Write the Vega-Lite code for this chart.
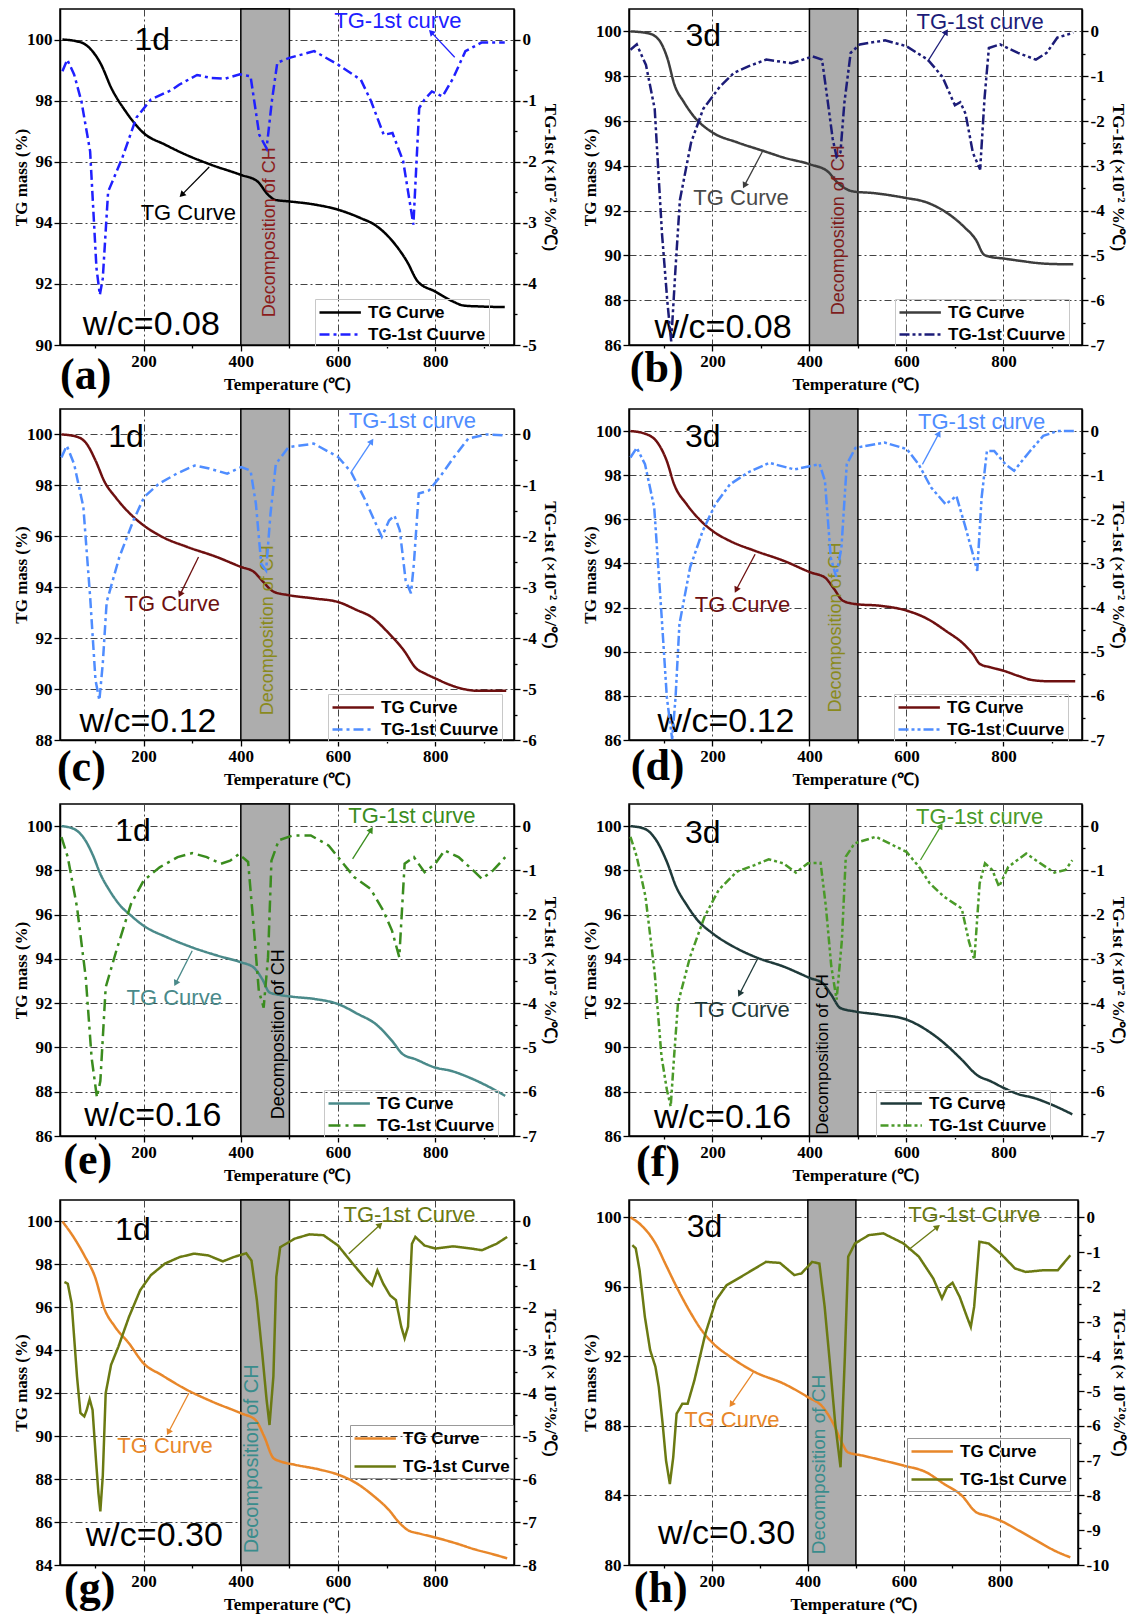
{
"$schema": "https://vega.github.io/schema/vega-lite/v6.json",
"padding": {"left": 11, "top": 7, "right": 0, "bottom": 2},
"autosize": {"type": "pad"},
"background": "#ffffff",
"config": {
 "view": {"stroke": "#000", "strokeWidth": 1.5},
 "axis": {"labelFont": "Liberation Serif", "labelFontSize": 17, "labelFontWeight": "bold", "labelColor": "#000", "titleFont": "Liberation Serif", "titleFontSize": 17, "titleFontWeight": "bold", "titleColor": "#000", "domainColor": "#000", "domainWidth": 1.5, "tickColor": "#000", "tickWidth": 1.3, "gridColor": "#444", "gridDash": [7, 3, 2, 3], "gridWidth": 1, "labelOverlap": false, "labelPadding": 2, "labelFlush": false},
 "axisX": {"titlePadding": 7},
 "legend": {"orient": "none", "strokeColor": "#c8c8c8", "padding": 3, "labelFont": "Liberation Sans", "labelFontSize": 17, "labelFontWeight": "bold", "labelColor": "#000", "symbolType": "M-1,0H3.6", "symbolSize": 324, "symbolStrokeWidth": 2.5, "rowPadding": 3, "labelOffset": 29},
 "text": {"font": "Liberation Sans", "align": "center", "baseline": "middle"},
 "line": {"strokeWidth": 2.5},
 "rule": {"strokeWidth": 1.3},
 "point": {"shape": "triangle", "filled": true, "size": 50, "opacity": 1}
},
"datasets": {
 "tg": [
  {"p":"a","T":33,"v":100},{"p":"a","T":60,"v":99.95},{"p":"a","T":80,"v":99.84},{"p":"a","T":112,"v":99.2},{"p":"a","T":134,"v":98.4},{"p":"a","T":163,"v":97.65},{"p":"a","T":200,"v":96.94},{"p":"a","T":244,"v":96.56},{"p":"a","T":280,"v":96.28},{"p":"a","T":339,"v":95.9},{"p":"a","T":400,"v":95.57},{"p":"a","T":434,"v":95.36},{"p":"a","T":456,"v":94.92},{"p":"a","T":471,"v":94.75},{"p":"a","T":500,"v":94.7},{"p":"a","T":551,"v":94.6},{"p":"a","T":600,"v":94.43},{"p":"a","T":647,"v":94.15},{"p":"a","T":676,"v":93.93},{"p":"a","T":712,"v":93.4},{"p":"a","T":742,"v":92.73},{"p":"a","T":764,"v":92.08},{"p":"a","T":800,"v":91.75},{"p":"a","T":837,"v":91.42},{"p":"a","T":859,"v":91.29},{"p":"a","T":895,"v":91.26},{"p":"a","T":943,"v":91.24},
  {"p":"b","T":31,"v":100},{"p":"b","T":67,"v":99.92},{"p":"b","T":89,"v":99.64},{"p":"b","T":107,"v":98.81},{"p":"b","T":122,"v":97.6},{"p":"b","T":141,"v":96.85},{"p":"b","T":163,"v":96.17},{"p":"b","T":200,"v":95.49},{"p":"b","T":252,"v":95.04},{"p":"b","T":304,"v":94.67},{"p":"b","T":348,"v":94.36},{"p":"b","T":402,"v":94.06},{"p":"b","T":437,"v":93.76},{"p":"b","T":459,"v":93.23},{"p":"b","T":489,"v":92.86},{"p":"b","T":533,"v":92.78},{"p":"b","T":600,"v":92.56},{"p":"b","T":637,"v":92.4},{"p":"b","T":674,"v":92.03},{"p":"b","T":719,"v":91.27},{"p":"b","T":744,"v":90.67},{"p":"b","T":759,"v":90.05},{"p":"b","T":770,"v":89.95},{"p":"b","T":800,"v":89.86},{"p":"b","T":837,"v":89.75},{"p":"b","T":874,"v":89.65},{"p":"b","T":896,"v":89.62},{"p":"b","T":944,"v":89.6},
  {"p":"c","T":31,"v":100},{"p":"c","T":61,"v":99.92},{"p":"c","T":83,"v":99.63},{"p":"c","T":101,"v":98.98},{"p":"c","T":120,"v":98.13},{"p":"c","T":142,"v":97.54},{"p":"c","T":172,"v":96.89},{"p":"c","T":200,"v":96.43},{"p":"c","T":239,"v":95.97},{"p":"c","T":290,"v":95.58},{"p":"c","T":350,"v":95.19},{"p":"c","T":400,"v":94.8},{"p":"c","T":427,"v":94.6},{"p":"c","T":446,"v":94.21},{"p":"c","T":468,"v":93.82},{"p":"c","T":498,"v":93.69},{"p":"c","T":550,"v":93.56},{"p":"c","T":600,"v":93.42},{"p":"c","T":639,"v":93.1},{"p":"c","T":668,"v":92.84},{"p":"c","T":705,"v":92.18},{"p":"c","T":735,"v":91.53},{"p":"c","T":761,"v":90.81},{"p":"c","T":779,"v":90.61},{"p":"c","T":800,"v":90.42},{"p":"c","T":831,"v":90.16},{"p":"c","T":861,"v":89.99},{"p":"c","T":890,"v":89.93},{"p":"c","T":946,"v":89.93},
  {"p":"d","T":31,"v":100},{"p":"d","T":61,"v":99.88},{"p":"d","T":87,"v":99.47},{"p":"d","T":106,"v":98.64},{"p":"d","T":121,"v":97.59},{"p":"d","T":147,"v":96.68},{"p":"d","T":173,"v":96.0},{"p":"d","T":200,"v":95.48},{"p":"d","T":236,"v":95.02},{"p":"d","T":288,"v":94.57},{"p":"d","T":347,"v":94.12},{"p":"d","T":403,"v":93.59},{"p":"d","T":432,"v":93.36},{"p":"d","T":451,"v":92.84},{"p":"d","T":469,"v":92.31},{"p":"d","T":495,"v":92.16},{"p":"d","T":547,"v":92.08},{"p":"d","T":601,"v":91.86},{"p":"d","T":644,"v":91.48},{"p":"d","T":681,"v":90.95},{"p":"d","T":718,"v":90.35},{"p":"d","T":737,"v":89.9},{"p":"d","T":752,"v":89.44},{"p":"d","T":774,"v":89.29},{"p":"d","T":800,"v":89.14},{"p":"d","T":830,"v":88.91},{"p":"d","T":859,"v":88.72},{"p":"d","T":896,"v":88.66},{"p":"d","T":948,"v":88.66},
  {"p":"e","T":31,"v":100},{"p":"e","T":56,"v":99.88},{"p":"e","T":78,"v":99.43},{"p":"e","T":96,"v":98.67},{"p":"e","T":111,"v":97.84},{"p":"e","T":130,"v":97.09},{"p":"e","T":152,"v":96.41},{"p":"e","T":174,"v":95.96},{"p":"e","T":200,"v":95.5},{"p":"e","T":248,"v":94.98},{"p":"e","T":300,"v":94.52},{"p":"e","T":352,"v":94.15},{"p":"e","T":400,"v":93.85},{"p":"e","T":426,"v":93.62},{"p":"e","T":444,"v":93.09},{"p":"e","T":459,"v":92.49},{"p":"e","T":478,"v":92.38},{"p":"e","T":507,"v":92.29},{"p":"e","T":552,"v":92.19},{"p":"e","T":600,"v":91.96},{"p":"e","T":641,"v":91.51},{"p":"e","T":678,"v":91.05},{"p":"e","T":711,"v":90.3},{"p":"e","T":733,"v":89.7},{"p":"e","T":759,"v":89.47},{"p":"e","T":800,"v":89.09},{"p":"e","T":833,"v":88.94},{"p":"e","T":870,"v":88.64},{"p":"e","T":907,"v":88.26},{"p":"e","T":944,"v":87.81},
  {"p":"f","T":31,"v":100},{"p":"f","T":59,"v":99.89},{"p":"f","T":84,"v":99.37},{"p":"f","T":106,"v":98.39},{"p":"f","T":125,"v":97.27},{"p":"f","T":147,"v":96.44},{"p":"f","T":169,"v":95.76},{"p":"f","T":200,"v":95.16},{"p":"f","T":243,"v":94.56},{"p":"f","T":294,"v":94.04},{"p":"f","T":346,"v":93.66},{"p":"f","T":402,"v":93.13},{"p":"f","T":427,"v":92.91},{"p":"f","T":445,"v":92.38},{"p":"f","T":464,"v":91.78},{"p":"f","T":493,"v":91.63},{"p":"f","T":545,"v":91.48},{"p":"f","T":600,"v":91.26},{"p":"f","T":640,"v":90.81},{"p":"f","T":677,"v":90.21},{"p":"f","T":714,"v":89.45},{"p":"f","T":747,"v":88.73},{"p":"f","T":773,"v":88.48},{"p":"f","T":800,"v":88.18},{"p":"f","T":832,"v":87.88},{"p":"f","T":861,"v":87.73},{"p":"f","T":898,"v":87.43},{"p":"f","T":942,"v":86.98},
  {"p":"g","T":33,"v":100},{"p":"g","T":56,"v":99.27},{"p":"g","T":78,"v":98.42},{"p":"g","T":100,"v":97.42},{"p":"g","T":119,"v":95.95},{"p":"g","T":141,"v":95.1},{"p":"g","T":170,"v":94.32},{"p":"g","T":200,"v":93.39},{"p":"g","T":237,"v":92.85},{"p":"g","T":289,"v":92.16},{"p":"g","T":341,"v":91.61},{"p":"g","T":400,"v":91.07},{"p":"g","T":430,"v":90.76},{"p":"g","T":448,"v":89.99},{"p":"g","T":467,"v":88.98},{"p":"g","T":481,"v":88.83},{"p":"g","T":511,"v":88.67},{"p":"g","T":563,"v":88.44},{"p":"g","T":600,"v":88.21},{"p":"g","T":637,"v":87.82},{"p":"g","T":674,"v":87.2},{"p":"g","T":704,"v":86.58},{"p":"g","T":726,"v":85.97},{"p":"g","T":744,"v":85.62},{"p":"g","T":770,"v":85.45},{"p":"g","T":800,"v":85.28},{"p":"g","T":844,"v":85.0},{"p":"g","T":881,"v":84.73},{"p":"g","T":919,"v":84.5},{"p":"g","T":948,"v":84.31},
  {"p":"h","T":31,"v":100},{"p":"h","T":53,"v":99.56},{"p":"h","T":83,"v":98.5},{"p":"h","T":105,"v":97.25},{"p":"h","T":127,"v":96.0},{"p":"h","T":157,"v":94.47},{"p":"h","T":179,"v":93.51},{"p":"h","T":200,"v":92.83},{"p":"h","T":239,"v":91.97},{"p":"h","T":290,"v":91.1},{"p":"h","T":350,"v":90.43},{"p":"h","T":400,"v":89.66},{"p":"h","T":431,"v":89.09},{"p":"h","T":453,"v":88.13},{"p":"h","T":472,"v":86.97},{"p":"h","T":483,"v":86.49},{"p":"h","T":513,"v":86.3},{"p":"h","T":557,"v":86.01},{"p":"h","T":599,"v":85.72},{"p":"h","T":646,"v":85.34},{"p":"h","T":683,"v":84.67},{"p":"h","T":720,"v":84.0},{"p":"h","T":750,"v":83.04},{"p":"h","T":772,"v":82.84},{"p":"h","T":800,"v":82.56},{"p":"h","T":839,"v":81.98},{"p":"h","T":876,"v":81.4},{"p":"h","T":913,"v":80.83},{"p":"h","T":946,"v":80.44}
 ],
 "dtg": [
  {"p":"a","T":33,"v":-0.52},{"p":"a","T":43,"v":-0.33},{"p":"a","T":57,"v":-0.57},{"p":"a","T":72,"v":-1.01},{"p":"a","T":90,"v":-1.83},{"p":"a","T":103,"v":-3.74},{"p":"a","T":110,"v":-4.18},{"p":"a","T":116,"v":-3.91},{"p":"a","T":127,"v":-2.49},{"p":"a","T":156,"v":-1.94},{"p":"a","T":185,"v":-1.28},{"p":"a","T":215,"v":-0.98},{"p":"a","T":259,"v":-0.82},{"p":"a","T":273,"v":-0.74},{"p":"a","T":310,"v":-0.58},{"p":"a","T":339,"v":-0.63},{"p":"a","T":368,"v":-0.64},{"p":"a","T":398,"v":-0.57},{"p":"a","T":420,"v":-0.6},{"p":"a","T":438,"v":-1.56},{"p":"a","T":453,"v":-1.78},{"p":"a","T":464,"v":-1.0},{"p":"a","T":475,"v":-0.38},{"p":"a","T":500,"v":-0.3},{"p":"a","T":551,"v":-0.19},{"p":"a","T":600,"v":-0.41},{"p":"a","T":647,"v":-0.66},{"p":"a","T":668,"v":-1.01},{"p":"a","T":694,"v":-1.56},{"p":"a","T":712,"v":-1.53},{"p":"a","T":734,"v":-1.99},{"p":"a","T":755,"v":-3.03},{"p":"a","T":767,"v":-1.12},{"p":"a","T":778,"v":-0.98},{"p":"a","T":793,"v":-0.85},{"p":"a","T":815,"v":-0.93},{"p":"a","T":837,"v":-0.63},{"p":"a","T":862,"v":-0.19},{"p":"a","T":895,"v":-0.05},{"p":"a","T":943,"v":-0.05},
  {"p":"b","T":31,"v":-0.41},{"p":"b","T":44,"v":-0.29},{"p":"b","T":63,"v":-0.75},{"p":"b","T":81,"v":-1.73},{"p":"b","T":96,"v":-4.51},{"p":"b","T":107,"v":-6.02},{"p":"b","T":115,"v":-6.92},{"p":"b","T":124,"v":-5.27},{"p":"b","T":133,"v":-3.76},{"p":"b","T":156,"v":-2.48},{"p":"b","T":181,"v":-1.73},{"p":"b","T":215,"v":-1.24},{"p":"b","T":244,"v":-0.93},{"p":"b","T":274,"v":-0.78},{"p":"b","T":311,"v":-0.63},{"p":"b","T":363,"v":-0.71},{"p":"b","T":407,"v":-0.56},{"p":"b","T":426,"v":-0.63},{"p":"b","T":437,"v":-1.5},{"p":"b","T":448,"v":-2.4},{"p":"b","T":456,"v":-2.8},{"p":"b","T":464,"v":-2.7},{"p":"b","T":472,"v":-1.6},{"p":"b","T":485,"v":-0.48},{"p":"b","T":504,"v":-0.29},{"p":"b","T":556,"v":-0.2},{"p":"b","T":600,"v":-0.33},{"p":"b","T":644,"v":-0.63},{"p":"b","T":674,"v":-1.01},{"p":"b","T":700,"v":-1.65},{"p":"b","T":711,"v":-1.58},{"p":"b","T":722,"v":-1.84},{"p":"b","T":737,"v":-2.71},{"p":"b","T":752,"v":-3.08},{"p":"b","T":761,"v":-1.5},{"p":"b","T":770,"v":-0.37},{"p":"b","T":793,"v":-0.29},{"p":"b","T":830,"v":-0.48},{"p":"b","T":867,"v":-0.63},{"p":"b","T":889,"v":-0.48},{"p":"b","T":911,"v":-0.14},{"p":"b","T":944,"v":-0.03},
  {"p":"c","T":31,"v":-0.45},{"p":"c","T":42,"v":-0.22},{"p":"c","T":57,"v":-0.58},{"p":"c","T":76,"v":-1.42},{"p":"c","T":90,"v":-3.19},{"p":"c","T":101,"v":-4.82},{"p":"c","T":109,"v":-5.22},{"p":"c","T":116,"v":-4.5},{"p":"c","T":124,"v":-3.29},{"p":"c","T":150,"v":-2.41},{"p":"c","T":179,"v":-1.69},{"p":"c","T":201,"v":-1.23},{"p":"c","T":231,"v":-0.97},{"p":"c","T":268,"v":-0.77},{"p":"c","T":305,"v":-0.61},{"p":"c","T":335,"v":-0.67},{"p":"c","T":372,"v":-0.77},{"p":"c","T":401,"v":-0.64},{"p":"c","T":420,"v":-0.71},{"p":"c","T":431,"v":-1.36},{"p":"c","T":442,"v":-2.54},{"p":"c","T":452,"v":-2.67},{"p":"c","T":461,"v":-1.56},{"p":"c","T":472,"v":-0.58},{"p":"c","T":498,"v":-0.25},{"p":"c","T":550,"v":-0.18},{"p":"c","T":600,"v":-0.44},{"p":"c","T":627,"v":-0.74},{"p":"c","T":653,"v":-1.23},{"p":"c","T":690,"v":-2.01},{"p":"c","T":705,"v":-1.69},{"p":"c","T":716,"v":-1.59},{"p":"c","T":727,"v":-1.88},{"p":"c","T":739,"v":-2.86},{"p":"c","T":750,"v":-3.12},{"p":"c","T":756,"v":-2.54},{"p":"c","T":766,"v":-1.16},{"p":"c","T":787,"v":-1.1},{"p":"c","T":809,"v":-0.84},{"p":"c","T":839,"v":-0.44},{"p":"c","T":868,"v":-0.08},{"p":"c","T":905,"v":0},{"p":"c","T":946,"v":-0.02},
  {"p":"d","T":31,"v":-0.6},{"p":"d","T":44,"v":-0.38},{"p":"d","T":61,"v":-0.75},{"p":"d","T":80,"v":-1.73},{"p":"d","T":95,"v":-4.15},{"p":"d","T":106,"v":-6.03},{"p":"d","T":117,"v":-6.98},{"p":"d","T":124,"v":-6.03},{"p":"d","T":132,"v":-4.37},{"p":"d","T":154,"v":-3.09},{"p":"d","T":180,"v":-2.26},{"p":"d","T":206,"v":-1.66},{"p":"d","T":236,"v":-1.21},{"p":"d","T":273,"v":-0.94},{"p":"d","T":317,"v":-0.72},{"p":"d","T":369,"v":-0.87},{"p":"d","T":421,"v":-0.75},{"p":"d","T":432,"v":-1.13},{"p":"d","T":444,"v":-2.87},{"p":"d","T":455,"v":-3.3},{"p":"d","T":466,"v":-2.64},{"p":"d","T":477,"v":-0.75},{"p":"d","T":495,"v":-0.38},{"p":"d","T":555,"v":-0.26},{"p":"d","T":601,"v":-0.41},{"p":"d","T":625,"v":-0.75},{"p":"d","T":651,"v":-1.28},{"p":"d","T":681,"v":-1.66},{"p":"d","T":703,"v":-1.47},{"p":"d","T":722,"v":-2.19},{"p":"d","T":737,"v":-2.79},{"p":"d","T":746,"v":-3.17},{"p":"d","T":755,"v":-1.51},{"p":"d","T":766,"v":-0.45},{"p":"d","T":781,"v":-0.45},{"p":"d","T":804,"v":-0.75},{"p":"d","T":822,"v":-0.9},{"p":"d","T":852,"v":-0.49},{"p":"d","T":882,"v":-0.11},{"p":"d","T":911,"v":0},{"p":"d","T":948,"v":0},
  {"p":"e","T":31,"v":-0.25},{"p":"e","T":44,"v":-0.7},{"p":"e","T":63,"v":-1.83},{"p":"e","T":81,"v":-3.42},{"p":"e","T":93,"v":-5.23},{"p":"e","T":104,"v":-6.13},{"p":"e","T":111,"v":-5.76},{"p":"e","T":122,"v":-3.64},{"p":"e","T":144,"v":-2.81},{"p":"e","T":174,"v":-1.76},{"p":"e","T":200,"v":-1.23},{"p":"e","T":233,"v":-0.93},{"p":"e","T":270,"v":-0.7},{"p":"e","T":300,"v":-0.61},{"p":"e","T":330,"v":-0.7},{"p":"e","T":359,"v":-0.85},{"p":"e","T":378,"v":-0.78},{"p":"e","T":396,"v":-0.63},{"p":"e","T":415,"v":-0.81},{"p":"e","T":426,"v":-2.21},{"p":"e","T":437,"v":-3.72},{"p":"e","T":447,"v":-4.1},{"p":"e","T":456,"v":-2.96},{"p":"e","T":463,"v":-0.78},{"p":"e","T":478,"v":-0.32},{"p":"e","T":507,"v":-0.21},{"p":"e","T":544,"v":-0.21},{"p":"e","T":581,"v":-0.44},{"p":"e","T":611,"v":-0.85},{"p":"e","T":633,"v":-1.15},{"p":"e","T":667,"v":-1.42},{"p":"e","T":693,"v":-1.91},{"p":"e","T":711,"v":-2.36},{"p":"e","T":726,"v":-2.96},{"p":"e","T":737,"v":-0.85},{"p":"e","T":756,"v":-0.7},{"p":"e","T":778,"v":-1.04},{"p":"e","T":800,"v":-0.85},{"p":"e","T":819,"v":-0.55},{"p":"e","T":848,"v":-0.7},{"p":"e","T":878,"v":-1.0},{"p":"e","T":896,"v":-1.19},{"p":"e","T":919,"v":-1.0},{"p":"e","T":944,"v":-0.7},
  {"p":"f","T":31,"v":-0.24},{"p":"f","T":44,"v":-0.69},{"p":"f","T":62,"v":-1.59},{"p":"f","T":81,"v":-3.32},{"p":"f","T":95,"v":-5.2},{"p":"f","T":106,"v":-5.95},{"p":"f","T":114,"v":-6.33},{"p":"f","T":121,"v":-5.2},{"p":"f","T":129,"v":-4.0},{"p":"f","T":154,"v":-2.95},{"p":"f","T":184,"v":-2.04},{"p":"f","T":213,"v":-1.44},{"p":"f","T":250,"v":-1.03},{"p":"f","T":287,"v":-0.88},{"p":"f","T":316,"v":-0.75},{"p":"f","T":346,"v":-0.84},{"p":"f","T":372,"v":-1.05},{"p":"f","T":397,"v":-0.84},{"p":"f","T":423,"v":-0.83},{"p":"f","T":434,"v":-1.82},{"p":"f","T":445,"v":-3.16},{"p":"f","T":456,"v":-3.92},{"p":"f","T":467,"v":-2.57},{"p":"f","T":475,"v":-0.69},{"p":"f","T":493,"v":-0.39},{"p":"f","T":537,"v":-0.24},{"p":"f","T":600,"v":-0.58},{"p":"f","T":626,"v":-0.92},{"p":"f","T":648,"v":-1.29},{"p":"f","T":677,"v":-1.59},{"p":"f","T":714,"v":-1.86},{"p":"f","T":729,"v":-2.61},{"p":"f","T":740,"v":-3.02},{"p":"f","T":751,"v":-1.29},{"p":"f","T":762,"v":-0.84},{"p":"f","T":777,"v":-0.99},{"p":"f","T":791,"v":-1.37},{"p":"f","T":810,"v":-0.92},{"p":"f","T":847,"v":-0.62},{"p":"f","T":876,"v":-0.84},{"p":"f","T":905,"v":-1.05},{"p":"f","T":928,"v":-0.99},{"p":"f","T":942,"v":-0.77},
  {"p":"g","T":37,"v":-1.41},{"p":"g","T":44,"v":-1.45},{"p":"g","T":52,"v":-1.91},{"p":"g","T":63,"v":-3.61},{"p":"g","T":70,"v":-4.46},{"p":"g","T":78,"v":-4.54},{"p":"g","T":83,"v":-4.39},{"p":"g","T":89,"v":-4.14},{"p":"g","T":95,"v":-4.39},{"p":"g","T":102,"v":-5.55},{"p":"g","T":107,"v":-6.32},{"p":"g","T":111,"v":-6.75},{"p":"g","T":116,"v":-5.93},{"p":"g","T":122,"v":-4.0},{"p":"g","T":133,"v":-3.34},{"p":"g","T":148,"v":-2.92},{"p":"g","T":170,"v":-2.22},{"p":"g","T":193,"v":-1.6},{"p":"g","T":215,"v":-1.25},{"p":"g","T":244,"v":-0.98},{"p":"g","T":274,"v":-0.83},{"p":"g","T":304,"v":-0.75},{"p":"g","T":333,"v":-0.79},{"p":"g","T":363,"v":-0.93},{"p":"g","T":385,"v":-0.83},{"p":"g","T":411,"v":-0.74},{"p":"g","T":422,"v":-0.91},{"p":"g","T":433,"v":-1.83},{"p":"g","T":444,"v":-3.07},{"p":"g","T":453,"v":-4.15},{"p":"g","T":459,"v":-4.74},{"p":"g","T":467,"v":-3.61},{"p":"g","T":473,"v":-1.29},{"p":"g","T":481,"v":-0.6},{"p":"g","T":511,"v":-0.4},{"p":"g","T":541,"v":-0.3},{"p":"g","T":570,"v":-0.32},{"p":"g","T":600,"v":-0.56},{"p":"g","T":630,"v":-0.98},{"p":"g","T":659,"v":-1.37},{"p":"g","T":670,"v":-1.49},{"p":"g","T":681,"v":-1.14},{"p":"g","T":693,"v":-1.45},{"p":"g","T":707,"v":-1.72},{"p":"g","T":719,"v":-1.83},{"p":"g","T":730,"v":-2.45},{"p":"g","T":737,"v":-2.72},{"p":"g","T":744,"v":-2.45},{"p":"g","T":752,"v":-0.52},{"p":"g","T":759,"v":-0.36},{"p":"g","T":778,"v":-0.56},{"p":"g","T":800,"v":-0.63},{"p":"g","T":837,"v":-0.58},{"p":"g","T":874,"v":-0.63},{"p":"g","T":896,"v":-0.67},{"p":"g","T":926,"v":-0.52},{"p":"g","T":948,"v":-0.36},
  {"p":"h","T":35,"v":-0.8},{"p":"h","T":42,"v":-0.89},{"p":"h","T":50,"v":-1.52},{"p":"h","T":61,"v":-2.86},{"p":"h","T":72,"v":-3.82},{"p":"h","T":83,"v":-4.3},{"p":"h","T":90,"v":-4.88},{"p":"h","T":98,"v":-5.94},{"p":"h","T":105,"v":-6.99},{"p":"h","T":113,"v":-7.67},{"p":"h","T":120,"v":-6.9},{"p":"h","T":127,"v":-5.65},{"p":"h","T":139,"v":-5.36},{"p":"h","T":150,"v":-5.36},{"p":"h","T":164,"v":-4.69},{"p":"h","T":187,"v":-3.34},{"p":"h","T":209,"v":-2.38},{"p":"h","T":231,"v":-1.95},{"p":"h","T":261,"v":-1.71},{"p":"h","T":290,"v":-1.47},{"p":"h","T":313,"v":-1.28},{"p":"h","T":342,"v":-1.31},{"p":"h","T":372,"v":-1.66},{"p":"h","T":387,"v":-1.61},{"p":"h","T":409,"v":-1.28},{"p":"h","T":424,"v":-1.33},{"p":"h","T":435,"v":-2.57},{"p":"h","T":446,"v":-4.21},{"p":"h","T":457,"v":-5.94},{"p":"h","T":468,"v":-7.19},{"p":"h","T":477,"v":-4.02},{"p":"h","T":484,"v":-1.13},{"p":"h","T":498,"v":-0.75},{"p":"h","T":527,"v":-0.51},{"p":"h","T":557,"v":-0.46},{"p":"h","T":599,"v":-0.75},{"p":"h","T":631,"v":-1.13},{"p":"h","T":661,"v":-1.76},{"p":"h","T":679,"v":-2.33},{"p":"h","T":690,"v":-2.0},{"p":"h","T":701,"v":-1.88},{"p":"h","T":716,"v":-2.29},{"p":"h","T":731,"v":-2.86},{"p":"h","T":739,"v":-3.15},{"p":"h","T":746,"v":-2.57},{"p":"h","T":757,"v":-0.7},{"p":"h","T":776,"v":-0.75},{"p":"h","T":801,"v":-1.04},{"p":"h","T":831,"v":-1.47},{"p":"h","T":853,"v":-1.57},{"p":"h","T":890,"v":-1.52},{"p":"h","T":920,"v":-1.52},{"p":"h","T":946,"v":-1.09}
 ]
},
"concat": [
  {"width": 454, "height": 336, "layer": [
   {"layer": [
    {"data": {"values": [{"a": 400, "b": 500}]}, "mark": {"type": "rect", "fill": "#adadad", "stroke": "#000", "strokeWidth": 1.5}, "encoding": {"x": {"field": "a", "type": "quantitative"}, "x2": {"field": "b"}}},
    {"data": {"name": "tg"}, "transform": [{"filter": "datum.p=='a'"}], "mark": {"type": "line", "interpolate": "monotone"}, "encoding": {
     "x": {"field": "T", "type": "quantitative", "scale": {"domain": [28, 962], "nice": false, "zero": false}, "axis": {"title": "Temperature (℃)", "values": [100,200,300,400,500,600,700,800,900], "labelExpr": "datum.value % 200 == 0 ? datum.label : ''", "grid": true, "gridOpacity": {"condition": {"test": "datum.value % 200 == 0", "value": 1}, "value": 0}, "tickSize": {"condition": {"test": "datum.value % 200 == 0", "value": 6}, "value": 3}}},
     "y": {"field": "v", "type": "quantitative", "scale": {"domain": [90, 101], "nice": false, "zero": false}, "axis": {"title": "TG mass (%)", "orient": "left", "values": [90,91,92,93,94,95,96,97,98,99,100], "labelExpr": "datum.value % 2 == 0 ? datum.label : ''", "grid": true, "gridOpacity": {"condition": {"test": "datum.value % 2 == 0", "value": 1}, "value": 0}, "tickSize": {"condition": {"test": "datum.value % 2 == 0", "value": 6}, "value": 3}, "titlePadding": -4}},
     "color": {"datum": "TG Curve", "scale": {"domain": ["TG Curve", "TG-1st Cuurve"], "range": ["#000000", "#2020ff"]}, "legend": {"title": null, "legendX": 255, "legendY": 290}},
     "strokeDash": {"datum": "TG Curve", "scale": {"domain": ["TG Curve", "TG-1st Cuurve"], "range": [[1, 0], [10, 4, 3, 4]]}, "legend": {"title": null, "legendX": 255, "legendY": 290}}}},
    {"data": {"values": [{}]}, "mark": {"type": "text", "text": "1d", "fontSize": 32, "color": "#000"}, "encoding": {"x": {"datum": 218}, "y": {"datum": 100}}},
    {"data": {"values": [{}]}, "mark": {"type": "text", "text": "w/c=0.08", "fontSize": 34, "color": "#000"}, "encoding": {"x": {"datum": 216}, "y": {"datum": 90.66}}},
    {"data": {"values": [{}]}, "mark": {"type": "text", "text": "TG Curve", "fontSize": 22, "color": "#000"}, "encoding": {"x": {"datum": 292}, "y": {"datum": 94.32}}},
    {"data": {"values": [{}]}, "mark": {"type": "text", "text": "TG-1st curve", "fontSize": 22, "color": "#2020ff"}, "encoding": {"x": {"datum": 723}, "y": {"datum": 100.62}}},
    {"data": {"values": [{}]}, "mark": {"type": "text", "text": "Decomposition of CH", "angle": 270, "fontSize": 18, "color": "#8b1c1c"}, "encoding": {"x": {"datum": 460}, "y": {"datum": 93.69}}},
    {"data": {"values": [{}]}, "mark": {"type": "text", "text": "(a)", "font": "Liberation Serif", "fontWeight": "bold", "fontSize": 44, "color": "#000"}, "encoding": {"x": {"datum": 81}, "y": {"datum": 89.0}}},
    {"data": {"values": [{}]}, "mark": {"type": "rule", "color": "#000"}, "encoding": {"x": {"datum": 335}, "y": {"datum": 95.83}, "x2": {"datum": 280}, "y2": {"datum": 94.94}}},
    {"data": {"values": [{}]}, "mark": {"type": "point", "angle": 225, "color": "#000"}, "encoding": {"x": {"datum": 280}, "y": {"datum": 94.94}}},
    {"data": {"values": [{}]}, "mark": {"type": "rule", "color": "#2020ff"}, "encoding": {"x": {"datum": 840}, "y": {"datum": 99.42}, "x2": {"datum": 793}, "y2": {"datum": 100.22}}},
    {"data": {"values": [{}]}, "mark": {"type": "point", "angle": 316, "color": "#2020ff"}, "encoding": {"x": {"datum": 793}, "y": {"datum": 100.22}}}
   ]},
   {"data": {"name": "dtg"}, "transform": [{"filter": "datum.p=='a'"}], "mark": {"type": "line"}, "encoding": {
    "x": {"field": "T", "type": "quantitative"},
    "y": {"field": "v", "type": "quantitative", "scale": {"domain": [-5, 0.5], "nice": false, "zero": false}, "axis": {"title": "TG-1st (×10⁻² %/℃)", "orient": "right", "values": [-5,-4.5,-4,-3.5,-3,-2.5,-2,-1.5,-1,-0.5,0], "labelExpr": "datum.value % 1 == 0 ? '' + datum.value : ''", "grid": false, "tickSize": {"condition": {"test": "datum.value % 1 == 0", "value": 6}, "value": 3}, "titlePadding": 4}},
    "color": {"datum": "TG-1st Cuurve"}, "strokeDash": {"datum": "TG-1st Cuurve"}}}
  ], "resolve": {"scale": {"y": "independent"}}},
  {"width": 453, "height": 336, "layer": [
   {"layer": [
    {"data": {"values": [{"a": 400, "b": 500}]}, "mark": {"type": "rect", "fill": "#adadad", "stroke": "#000", "strokeWidth": 1.5}, "encoding": {"x": {"field": "a", "type": "quantitative"}, "x2": {"field": "b"}}},
    {"data": {"name": "tg"}, "transform": [{"filter": "datum.p=='b'"}], "mark": {"type": "line", "interpolate": "monotone"}, "encoding": {
     "x": {"field": "T", "type": "quantitative", "scale": {"domain": [28, 962], "nice": false, "zero": false}, "axis": {"title": "Temperature (℃)", "values": [100,200,300,400,500,600,700,800,900], "labelExpr": "datum.value % 200 == 0 ? datum.label : ''", "grid": true, "gridOpacity": {"condition": {"test": "datum.value % 200 == 0", "value": 1}, "value": 0}, "tickSize": {"condition": {"test": "datum.value % 200 == 0", "value": 6}, "value": 3}}},
     "y": {"field": "v", "type": "quantitative", "scale": {"domain": [86, 101], "nice": false, "zero": false}, "axis": {"title": "TG mass (%)", "orient": "left", "values": [86,87,88,89,90,91,92,93,94,95,96,97,98,99,100], "labelExpr": "datum.value % 2 == 0 ? datum.label : ''", "grid": true, "gridOpacity": {"condition": {"test": "datum.value % 2 == 0", "value": 1}, "value": 0}, "tickSize": {"condition": {"test": "datum.value % 2 == 0", "value": 6}, "value": 3}, "titlePadding": -4}},
     "color": {"datum": "TG Curve", "scale": {"domain": ["TG Curve", "TG-1st Cuurve"], "range": ["#3d3d3d", "#1c1c78"]}, "legend": {"title": null, "legendX": 266, "legendY": 290}},
     "strokeDash": {"datum": "TG Curve", "scale": {"domain": ["TG Curve", "TG-1st Cuurve"], "range": [[1, 0], [10, 3, 3, 3, 3, 3]]}, "legend": {"title": null, "legendX": 266, "legendY": 290}}}},
    {"data": {"values": [{}]}, "mark": {"type": "text", "text": "3d", "fontSize": 32, "color": "#000"}, "encoding": {"x": {"datum": 181}, "y": {"datum": 99.8}}},
    {"data": {"values": [{}]}, "mark": {"type": "text", "text": "w/c=0.08", "fontSize": 34, "color": "#000"}, "encoding": {"x": {"datum": 222}, "y": {"datum": 86.75}}},
    {"data": {"values": [{}]}, "mark": {"type": "text", "text": "TG Curve", "fontSize": 22, "color": "#4a4a4a"}, "encoding": {"x": {"datum": 259}, "y": {"datum": 92.56}}},
    {"data": {"values": [{}]}, "mark": {"type": "text", "text": "TG-1st curve", "fontSize": 22, "color": "#1c1c78"}, "encoding": {"x": {"datum": 752}, "y": {"datum": 100.44}}},
    {"data": {"values": [{}]}, "mark": {"type": "text", "text": "Decomposition of CH", "angle": 270, "fontSize": 18, "color": "#7d1d1d"}, "encoding": {"x": {"datum": 461}, "y": {"datum": 91.12}}},
    {"data": {"values": [{}]}, "mark": {"type": "text", "text": "(b)", "font": "Liberation Serif", "fontWeight": "bold", "fontSize": 44, "color": "#000"}, "encoding": {"x": {"datum": 85}, "y": {"datum": 84.95}}},
    {"data": {"values": [{}]}, "mark": {"type": "rule", "color": "#3d3d3d"}, "encoding": {"x": {"datum": 304}, "y": {"datum": 94.67}, "x2": {"datum": 267}, "y2": {"datum": 93.16}}},
    {"data": {"values": [{}]}, "mark": {"type": "point", "angle": 208, "color": "#3d3d3d"}, "encoding": {"x": {"datum": 267}, "y": {"datum": 93.16}}},
    {"data": {"values": [{}]}, "mark": {"type": "rule", "color": "#1c1c78"}, "encoding": {"x": {"datum": 644}, "y": {"datum": 98.66}, "x2": {"datum": 681}, "y2": {"datum": 99.94}}},
    {"data": {"values": [{}]}, "mark": {"type": "point", "angle": 32, "color": "#1c1c78"}, "encoding": {"x": {"datum": 681}, "y": {"datum": 99.94}}}
   ]},
   {"data": {"name": "dtg"}, "transform": [{"filter": "datum.p=='b'"}], "mark": {"type": "line"}, "encoding": {
    "x": {"field": "T", "type": "quantitative"},
    "y": {"field": "v", "type": "quantitative", "scale": {"domain": [-7, 0.5], "nice": false, "zero": false}, "axis": {"title": "TG-1st (×10⁻² %/℃)", "orient": "right", "values": [-7,-6.5,-6,-5.5,-5,-4.5,-4,-3.5,-3,-2.5,-2,-1.5,-1,-0.5,0], "labelExpr": "datum.value % 1 == 0 ? '' + datum.value : ''", "grid": false, "tickSize": {"condition": {"test": "datum.value % 1 == 0", "value": 6}, "value": 3}, "titlePadding": 4}},
    "color": {"datum": "TG-1st Cuurve"}, "strokeDash": {"datum": "TG-1st Cuurve"}}}
  ], "resolve": {"scale": {"y": "independent"}}},
  {"width": 454, "height": 331, "layer": [
   {"layer": [
    {"data": {"values": [{"a": 400, "b": 500}]}, "mark": {"type": "rect", "fill": "#adadad", "stroke": "#000", "strokeWidth": 1.5}, "encoding": {"x": {"field": "a", "type": "quantitative"}, "x2": {"field": "b"}}},
    {"data": {"name": "tg"}, "transform": [{"filter": "datum.p=='c'"}], "mark": {"type": "line", "interpolate": "monotone"}, "encoding": {
     "x": {"field": "T", "type": "quantitative", "scale": {"domain": [28, 962], "nice": false, "zero": false}, "axis": {"title": "Temperature (℃)", "values": [100,200,300,400,500,600,700,800,900], "labelExpr": "datum.value % 200 == 0 ? datum.label : ''", "grid": true, "gridOpacity": {"condition": {"test": "datum.value % 200 == 0", "value": 1}, "value": 0}, "tickSize": {"condition": {"test": "datum.value % 200 == 0", "value": 6}, "value": 3}}},
     "y": {"field": "v", "type": "quantitative", "scale": {"domain": [88, 101], "nice": false, "zero": false}, "axis": {"title": "TG mass (%)", "orient": "left", "values": [88,89,90,91,92,93,94,95,96,97,98,99,100], "labelExpr": "datum.value % 2 == 0 ? datum.label : ''", "grid": true, "gridOpacity": {"condition": {"test": "datum.value % 2 == 0", "value": 1}, "value": 0}, "tickSize": {"condition": {"test": "datum.value % 2 == 0", "value": 6}, "value": 3}, "titlePadding": -4}},
     "color": {"datum": "TG Curve", "scale": {"domain": ["TG Curve", "TG-1st Cuurve"], "range": ["#6e1010", "#4f8dff"]}, "legend": {"title": null, "legendX": 268, "legendY": 285}},
     "strokeDash": {"datum": "TG Curve", "scale": {"domain": ["TG Curve", "TG-1st Cuurve"], "range": [[1, 0], [10, 4, 3, 4]]}, "legend": {"title": null, "legendX": 268, "legendY": 285}}}},
    {"data": {"values": [{}]}, "mark": {"type": "text", "text": "1d", "fontSize": 32, "color": "#000"}, "encoding": {"x": {"datum": 164}, "y": {"datum": 99.9}}},
    {"data": {"values": [{}]}, "mark": {"type": "text", "text": "w/c=0.12", "fontSize": 34, "color": "#000"}, "encoding": {"x": {"datum": 209}, "y": {"datum": 88.72}}},
    {"data": {"values": [{}]}, "mark": {"type": "text", "text": "TG Curve", "fontSize": 22, "color": "#6e1010"}, "encoding": {"x": {"datum": 259}, "y": {"datum": 93.33}}},
    {"data": {"values": [{}]}, "mark": {"type": "text", "text": "TG-1st curve", "fontSize": 22, "color": "#4f8dff"}, "encoding": {"x": {"datum": 753}, "y": {"datum": 100.52}}},
    {"data": {"values": [{}]}, "mark": {"type": "text", "text": "Decomposition of CH", "angle": 270, "fontSize": 18, "color": "#8a8a1e"}, "encoding": {"x": {"datum": 455}, "y": {"datum": 92.31}}},
    {"data": {"values": [{}]}, "mark": {"type": "text", "text": "(c)", "font": "Liberation Serif", "fontWeight": "bold", "fontSize": 44, "color": "#000"}, "encoding": {"x": {"datum": 72}, "y": {"datum": 86.89}}},
    {"data": {"values": [{}]}, "mark": {"type": "rule", "color": "#6e1010"}, "encoding": {"x": {"datum": 313}, "y": {"datum": 95.19}, "x2": {"datum": 276}, "y2": {"datum": 93.75}}},
    {"data": {"values": [{}]}, "mark": {"type": "point", "angle": 206, "color": "#6e1010"}, "encoding": {"x": {"datum": 276}, "y": {"datum": 93.75}}},
    {"data": {"values": [{}]}, "mark": {"type": "rule", "color": "#4f8dff"}, "encoding": {"x": {"datum": 627}, "y": {"datum": 98.52}, "x2": {"datum": 668}, "y2": {"datum": 99.7}}},
    {"data": {"values": [{}]}, "mark": {"type": "point", "angle": 33, "color": "#4f8dff"}, "encoding": {"x": {"datum": 668}, "y": {"datum": 99.7}}}
   ]},
   {"data": {"name": "dtg"}, "transform": [{"filter": "datum.p=='c'"}], "mark": {"type": "line"}, "encoding": {
    "x": {"field": "T", "type": "quantitative"},
    "y": {"field": "v", "type": "quantitative", "scale": {"domain": [-6, 0.5], "nice": false, "zero": false}, "axis": {"title": "TG-1st (×10⁻² %/℃)", "orient": "right", "values": [-6,-5.5,-5,-4.5,-4,-3.5,-3,-2.5,-2,-1.5,-1,-0.5,0], "labelExpr": "datum.value % 1 == 0 ? '' + datum.value : ''", "grid": false, "tickSize": {"condition": {"test": "datum.value % 1 == 0", "value": 6}, "value": 3}, "titlePadding": 4}},
    "color": {"datum": "TG-1st Cuurve"}, "strokeDash": {"datum": "TG-1st Cuurve"}}}
  ], "resolve": {"scale": {"y": "independent"}}},
  {"width": 453, "height": 331, "layer": [
   {"layer": [
    {"data": {"values": [{"a": 400, "b": 500}]}, "mark": {"type": "rect", "fill": "#adadad", "stroke": "#000", "strokeWidth": 1.5}, "encoding": {"x": {"field": "a", "type": "quantitative"}, "x2": {"field": "b"}}},
    {"data": {"name": "tg"}, "transform": [{"filter": "datum.p=='d'"}], "mark": {"type": "line", "interpolate": "monotone"}, "encoding": {
     "x": {"field": "T", "type": "quantitative", "scale": {"domain": [28, 962], "nice": false, "zero": false}, "axis": {"title": "Temperature (℃)", "values": [100,200,300,400,500,600,700,800,900], "labelExpr": "datum.value % 200 == 0 ? datum.label : ''", "grid": true, "gridOpacity": {"condition": {"test": "datum.value % 200 == 0", "value": 1}, "value": 0}, "tickSize": {"condition": {"test": "datum.value % 200 == 0", "value": 6}, "value": 3}}},
     "y": {"field": "v", "type": "quantitative", "scale": {"domain": [86, 101], "nice": false, "zero": false}, "axis": {"title": "TG mass (%)", "orient": "left", "values": [86,87,88,89,90,91,92,93,94,95,96,97,98,99,100], "labelExpr": "datum.value % 2 == 0 ? datum.label : ''", "grid": true, "gridOpacity": {"condition": {"test": "datum.value % 2 == 0", "value": 1}, "value": 0}, "tickSize": {"condition": {"test": "datum.value % 2 == 0", "value": 6}, "value": 3}, "titlePadding": -4}},
     "color": {"datum": "TG Curve", "scale": {"domain": ["TG Curve", "TG-1st Cuurve"], "range": ["#6e1010", "#4f8dff"]}, "legend": {"title": null, "legendX": 265, "legendY": 285}},
     "strokeDash": {"datum": "TG Curve", "scale": {"domain": ["TG Curve", "TG-1st Cuurve"], "range": [[1, 0], [10, 3, 3, 3, 3, 3]]}, "legend": {"title": null, "legendX": 265, "legendY": 285}}}},
    {"data": {"values": [{}]}, "mark": {"type": "text", "text": "3d", "fontSize": 32, "color": "#000"}, "encoding": {"x": {"datum": 180}, "y": {"datum": 99.73}}},
    {"data": {"values": [{}]}, "mark": {"type": "text", "text": "w/c=0.12", "fontSize": 34, "color": "#000"}, "encoding": {"x": {"datum": 228}, "y": {"datum": 86.8}}},
    {"data": {"values": [{}]}, "mark": {"type": "text", "text": "TG Curve", "fontSize": 22, "color": "#6e1010"}, "encoding": {"x": {"datum": 262}, "y": {"datum": 92.13}}},
    {"data": {"values": [{}]}, "mark": {"type": "text", "text": "TG-1st curve", "fontSize": 22, "color": "#4f8dff"}, "encoding": {"x": {"datum": 755}, "y": {"datum": 100.42}}},
    {"data": {"values": [{}]}, "mark": {"type": "text", "text": "Decomposition of CH", "angle": 270, "fontSize": 18, "color": "#8a8a1e"}, "encoding": {"x": {"datum": 455}, "y": {"datum": 91.1}}},
    {"data": {"values": [{}]}, "mark": {"type": "text", "text": "(d)", "font": "Liberation Serif", "fontWeight": "bold", "fontSize": 44, "color": "#000"}, "encoding": {"x": {"datum": 87}, "y": {"datum": 84.77}}},
    {"data": {"values": [{}]}, "mark": {"type": "rule", "color": "#6e1010"}, "encoding": {"x": {"datum": 288}, "y": {"datum": 94.42}, "x2": {"datum": 250}, "y2": {"datum": 92.84}}},
    {"data": {"values": [{}]}, "mark": {"type": "point", "angle": 207, "color": "#6e1010"}, "encoding": {"x": {"datum": 250}, "y": {"datum": 92.84}}},
    {"data": {"values": [{}]}, "mark": {"type": "rule", "color": "#4f8dff"}, "encoding": {"x": {"datum": 633}, "y": {"datum": 98.49}, "x2": {"datum": 666}, "y2": {"datum": 99.85}}},
    {"data": {"values": [{}]}, "mark": {"type": "point", "angle": 28, "color": "#4f8dff"}, "encoding": {"x": {"datum": 666}, "y": {"datum": 99.85}}}
   ]},
   {"data": {"name": "dtg"}, "transform": [{"filter": "datum.p=='d'"}], "mark": {"type": "line"}, "encoding": {
    "x": {"field": "T", "type": "quantitative"},
    "y": {"field": "v", "type": "quantitative", "scale": {"domain": [-7, 0.5], "nice": false, "zero": false}, "axis": {"title": "TG-1st (×10⁻² %/℃)", "orient": "right", "values": [-7,-6.5,-6,-5.5,-5,-4.5,-4,-3.5,-3,-2.5,-2,-1.5,-1,-0.5,0], "labelExpr": "datum.value % 1 == 0 ? '' + datum.value : ''", "grid": false, "tickSize": {"condition": {"test": "datum.value % 1 == 0", "value": 6}, "value": 3}, "titlePadding": 4}},
    "color": {"datum": "TG-1st Cuurve"}, "strokeDash": {"datum": "TG-1st Cuurve"}}}
  ], "resolve": {"scale": {"y": "independent"}}},
  {"width": 454, "height": 332, "layer": [
   {"layer": [
    {"data": {"values": [{"a": 400, "b": 500}]}, "mark": {"type": "rect", "fill": "#adadad", "stroke": "#000", "strokeWidth": 1.5}, "encoding": {"x": {"field": "a", "type": "quantitative"}, "x2": {"field": "b"}}},
    {"data": {"name": "tg"}, "transform": [{"filter": "datum.p=='e'"}], "mark": {"type": "line", "interpolate": "monotone"}, "encoding": {
     "x": {"field": "T", "type": "quantitative", "scale": {"domain": [28, 962], "nice": false, "zero": false}, "axis": {"title": "Temperature (℃)", "values": [100,200,300,400,500,600,700,800,900], "labelExpr": "datum.value % 200 == 0 ? datum.label : ''", "grid": true, "gridOpacity": {"condition": {"test": "datum.value % 200 == 0", "value": 1}, "value": 0}, "tickSize": {"condition": {"test": "datum.value % 200 == 0", "value": 6}, "value": 3}}},
     "y": {"field": "v", "type": "quantitative", "scale": {"domain": [86, 101], "nice": false, "zero": false}, "axis": {"title": "TG mass (%)", "orient": "left", "values": [86,87,88,89,90,91,92,93,94,95,96,97,98,99,100], "labelExpr": "datum.value % 2 == 0 ? datum.label : ''", "grid": true, "gridOpacity": {"condition": {"test": "datum.value % 2 == 0", "value": 1}, "value": 0}, "tickSize": {"condition": {"test": "datum.value % 2 == 0", "value": 6}, "value": 3}, "titlePadding": -4}},
     "color": {"datum": "TG Curve", "scale": {"domain": ["TG Curve", "TG-1st Cuurve"], "range": ["#4a8a8a", "#3a8c1e"]}, "legend": {"title": null, "legendX": 264, "legendY": 286}},
     "strokeDash": {"datum": "TG Curve", "scale": {"domain": ["TG Curve", "TG-1st Cuurve"], "range": [[1, 0], [12, 5, 3, 5]]}, "legend": {"title": null, "legendX": 264, "legendY": 286}}}},
    {"data": {"values": [{}]}, "mark": {"type": "text", "text": "1d", "fontSize": 32, "color": "#000"}, "encoding": {"x": {"datum": 178}, "y": {"datum": 99.8}}},
    {"data": {"values": [{}]}, "mark": {"type": "text", "text": "w/c=0.16", "fontSize": 34, "color": "#000"}, "encoding": {"x": {"datum": 219}, "y": {"datum": 86.91}}},
    {"data": {"values": [{}]}, "mark": {"type": "text", "text": "TG Curve", "fontSize": 22, "color": "#4a8a8a"}, "encoding": {"x": {"datum": 263}, "y": {"datum": 92.23}}},
    {"data": {"values": [{}]}, "mark": {"type": "text", "text": "TG-1st curve", "fontSize": 22, "color": "#3a8c1e"}, "encoding": {"x": {"datum": 752}, "y": {"datum": 100.48}}},
    {"data": {"values": [{}]}, "mark": {"type": "text", "text": "Decomposition of CH", "angle": 270, "fontSize": 18, "color": "#000"}, "encoding": {"x": {"datum": 478}, "y": {"datum": 90.6}}},
    {"data": {"values": [{}]}, "mark": {"type": "text", "text": "(e)", "font": "Liberation Serif", "fontWeight": "bold", "fontSize": 44, "color": "#000"}, "encoding": {"x": {"datum": 85}, "y": {"datum": 84.87}}},
    {"data": {"values": [{}]}, "mark": {"type": "rule", "color": "#4a8a8a"}, "encoding": {"x": {"datum": 300}, "y": {"datum": 94.37}, "x2": {"datum": 267}, "y2": {"datum": 92.94}}},
    {"data": {"values": [{}]}, "mark": {"type": "point", "angle": 207, "color": "#4a8a8a"}, "encoding": {"x": {"datum": 267}, "y": {"datum": 92.94}}},
    {"data": {"values": [{}]}, "mark": {"type": "rule", "color": "#3a8c1e"}, "encoding": {"x": {"datum": 630}, "y": {"datum": 98.52}, "x2": {"datum": 667}, "y2": {"datum": 99.8}}},
    {"data": {"values": [{}]}, "mark": {"type": "point", "angle": 32, "color": "#3a8c1e"}, "encoding": {"x": {"datum": 667}, "y": {"datum": 99.8}}}
   ]},
   {"data": {"name": "dtg"}, "transform": [{"filter": "datum.p=='e'"}], "mark": {"type": "line"}, "encoding": {
    "x": {"field": "T", "type": "quantitative"},
    "y": {"field": "v", "type": "quantitative", "scale": {"domain": [-7, 0.5], "nice": false, "zero": false}, "axis": {"title": "TG-1st (×10⁻² %/℃)", "orient": "right", "values": [-7,-6.5,-6,-5.5,-5,-4.5,-4,-3.5,-3,-2.5,-2,-1.5,-1,-0.5,0], "labelExpr": "datum.value % 1 == 0 ? '' + datum.value : ''", "grid": false, "tickSize": {"condition": {"test": "datum.value % 1 == 0", "value": 6}, "value": 3}, "titlePadding": 4}},
    "color": {"datum": "TG-1st Cuurve"}, "strokeDash": {"datum": "TG-1st Cuurve"}}}
  ], "resolve": {"scale": {"y": "independent"}}},
  {"width": 453, "height": 332, "layer": [
   {"layer": [
    {"data": {"values": [{"a": 400, "b": 500}]}, "mark": {"type": "rect", "fill": "#adadad", "stroke": "#000", "strokeWidth": 1.5}, "encoding": {"x": {"field": "a", "type": "quantitative"}, "x2": {"field": "b"}}},
    {"data": {"name": "tg"}, "transform": [{"filter": "datum.p=='f'"}], "mark": {"type": "line", "interpolate": "monotone"}, "encoding": {
     "x": {"field": "T", "type": "quantitative", "scale": {"domain": [28, 962], "nice": false, "zero": false}, "axis": {"title": "Temperature (℃)", "values": [100,200,300,400,500,600,700,800,900], "labelExpr": "datum.value % 200 == 0 ? datum.label : ''", "grid": true, "gridOpacity": {"condition": {"test": "datum.value % 200 == 0", "value": 1}, "value": 0}, "tickSize": {"condition": {"test": "datum.value % 200 == 0", "value": 6}, "value": 3}}},
     "y": {"field": "v", "type": "quantitative", "scale": {"domain": [86, 101], "nice": false, "zero": false}, "axis": {"title": "TG mass (%)", "orient": "left", "values": [86,87,88,89,90,91,92,93,94,95,96,97,98,99,100], "labelExpr": "datum.value % 2 == 0 ? datum.label : ''", "grid": true, "gridOpacity": {"condition": {"test": "datum.value % 2 == 0", "value": 1}, "value": 0}, "tickSize": {"condition": {"test": "datum.value % 2 == 0", "value": 6}, "value": 3}, "titlePadding": -4}},
     "color": {"datum": "TG Curve", "scale": {"domain": ["TG Curve", "TG-1st Cuurve"], "range": ["#1f3a3a", "#4a9a28"]}, "legend": {"title": null, "legendX": 247, "legendY": 286}},
     "strokeDash": {"datum": "TG Curve", "scale": {"domain": ["TG Curve", "TG-1st Cuurve"], "range": [[1, 0], [8, 3, 3, 3, 3, 3]]}, "legend": {"title": null, "legendX": 247, "legendY": 286}}}},
    {"data": {"values": [{}]}, "mark": {"type": "text", "text": "3d", "fontSize": 32, "color": "#000"}, "encoding": {"x": {"datum": 180}, "y": {"datum": 99.67}}},
    {"data": {"values": [{}]}, "mark": {"type": "text", "text": "w/c=0.16", "fontSize": 34, "color": "#000"}, "encoding": {"x": {"datum": 221}, "y": {"datum": 86.83}}},
    {"data": {"values": [{}]}, "mark": {"type": "text", "text": "TG Curve", "fontSize": 22, "color": "#1f3a3a"}, "encoding": {"x": {"datum": 261}, "y": {"datum": 91.71}}},
    {"data": {"values": [{}]}, "mark": {"type": "text", "text": "TG-1st curve", "fontSize": 22, "color": "#4a9a28"}, "encoding": {"x": {"datum": 751}, "y": {"datum": 100.42}}},
    {"data": {"values": [{}]}, "mark": {"type": "text", "text": "Decomposition of CH", "angle": 270, "fontSize": 17, "color": "#000"}, "encoding": {"x": {"datum": 427}, "y": {"datum": 89.68}}},
    {"data": {"values": [{}]}, "mark": {"type": "text", "text": "(f)", "font": "Liberation Serif", "fontWeight": "bold", "fontSize": 44, "color": "#000"}, "encoding": {"x": {"datum": 88}, "y": {"datum": 84.8}}},
    {"data": {"values": [{}]}, "mark": {"type": "rule", "color": "#1f3a3a"}, "encoding": {"x": {"datum": 294}, "y": {"datum": 94.04}, "x2": {"datum": 257}, "y2": {"datum": 92.46}}},
    {"data": {"values": [{}]}, "mark": {"type": "point", "angle": 207, "color": "#1f3a3a"}, "encoding": {"x": {"datum": 257}, "y": {"datum": 92.46}}},
    {"data": {"values": [{}]}, "mark": {"type": "rule", "color": "#4a9a28"}, "encoding": {"x": {"datum": 629}, "y": {"datum": 98.47}, "x2": {"datum": 670}, "y2": {"datum": 99.97}}},
    {"data": {"values": [{}]}, "mark": {"type": "point", "angle": 31, "color": "#4a9a28"}, "encoding": {"x": {"datum": 670}, "y": {"datum": 99.97}}}
   ]},
   {"data": {"name": "dtg"}, "transform": [{"filter": "datum.p=='f'"}], "mark": {"type": "line"}, "encoding": {
    "x": {"field": "T", "type": "quantitative"},
    "y": {"field": "v", "type": "quantitative", "scale": {"domain": [-7, 0.5], "nice": false, "zero": false}, "axis": {"title": "TG-1st (×10⁻² %/℃)", "orient": "right", "values": [-7,-6.5,-6,-5.5,-5,-4.5,-4,-3.5,-3,-2.5,-2,-1.5,-1,-0.5,0], "labelExpr": "datum.value % 1 == 0 ? '' + datum.value : ''", "grid": false, "tickSize": {"condition": {"test": "datum.value % 1 == 0", "value": 6}, "value": 3}, "titlePadding": 4}},
    "color": {"datum": "TG-1st Cuurve"}, "strokeDash": {"datum": "TG-1st Cuurve"}}}
  ], "resolve": {"scale": {"y": "independent"}}},
  {"width": 454, "height": 365, "layer": [
   {"layer": [
    {"data": {"values": [{"a": 400, "b": 500}]}, "mark": {"type": "rect", "fill": "#adadad", "stroke": "#000", "strokeWidth": 1.5}, "encoding": {"x": {"field": "a", "type": "quantitative"}, "x2": {"field": "b"}}},
    {"data": {"name": "tg"}, "transform": [{"filter": "datum.p=='g'"}], "mark": {"type": "line", "interpolate": "monotone"}, "encoding": {
     "x": {"field": "T", "type": "quantitative", "scale": {"domain": [28, 962], "nice": false, "zero": false}, "axis": {"title": "Temperature (℃)", "values": [100,200,300,400,500,600,700,800,900], "labelExpr": "datum.value % 200 == 0 ? datum.label : ''", "grid": true, "gridOpacity": {"condition": {"test": "datum.value % 200 == 0", "value": 1}, "value": 0}, "tickSize": {"condition": {"test": "datum.value % 200 == 0", "value": 6}, "value": 3}}},
     "y": {"field": "v", "type": "quantitative", "scale": {"domain": [84, 101], "nice": false, "zero": false}, "axis": {"title": "TG mass (%)", "orient": "left", "values": [84,85,86,87,88,89,90,91,92,93,94,95,96,97,98,99,100], "labelExpr": "datum.value % 2 == 0 ? datum.label : ''", "grid": true, "gridOpacity": {"condition": {"test": "datum.value % 2 == 0", "value": 1}, "value": 0}, "tickSize": {"condition": {"test": "datum.value % 2 == 0", "value": 6}, "value": 3}, "titlePadding": -4}},
     "color": {"datum": "TG Curve", "scale": {"domain": ["TG Curve", "TG-1st Curve"], "range": ["#e8872a", "#6b7a12"]}, "legend": {"title": null, "legendX": 290, "legendY": 225, "rowPadding": 9, "strokeColor": "#999"}},
     "strokeDash": {"datum": "TG Curve", "scale": {"domain": ["TG Curve", "TG-1st Curve"], "range": [[1, 0], [1, 0]]}, "legend": {"title": null, "legendX": 290, "legendY": 225, "rowPadding": 9, "strokeColor": "#999"}}}},
    {"data": {"values": [{}]}, "mark": {"type": "text", "text": "1d", "fontSize": 32, "color": "#000"}, "encoding": {"x": {"datum": 178}, "y": {"datum": 99.58}}},
    {"data": {"values": [{}]}, "mark": {"type": "text", "text": "w/c=0.30", "fontSize": 34, "color": "#000"}, "encoding": {"x": {"datum": 222}, "y": {"datum": 85.35}}},
    {"data": {"values": [{}]}, "mark": {"type": "text", "text": "TG Curve", "fontSize": 22, "color": "#e8872a"}, "encoding": {"x": {"datum": 244}, "y": {"datum": 89.52}}},
    {"data": {"values": [{}]}, "mark": {"type": "text", "text": "TG-1st Curve", "fontSize": 22, "color": "#6b7a12"}, "encoding": {"x": {"datum": 747}, "y": {"datum": 100.32}}},
    {"data": {"values": [{}]}, "mark": {"type": "text", "text": "Decomposition of CH", "angle": 270, "fontSize": 20, "color": "#3a8c8c"}, "encoding": {"x": {"datum": 422}, "y": {"datum": 88.95}}},
    {"data": {"values": [{}]}, "mark": {"type": "text", "text": "(g)", "font": "Liberation Serif", "fontWeight": "bold", "fontSize": 44, "color": "#000"}, "encoding": {"x": {"datum": 89}, "y": {"datum": 82.87}}},
    {"data": {"values": [{}]}, "mark": {"type": "rule", "color": "#e8872a"}, "encoding": {"x": {"datum": 293}, "y": {"datum": 92.0}, "x2": {"datum": 252}, "y2": {"datum": 90.22}}},
    {"data": {"values": [{}]}, "mark": {"type": "point", "angle": 207, "color": "#e8872a"}, "encoding": {"x": {"datum": 252}, "y": {"datum": 90.22}}},
    {"data": {"values": [{}]}, "mark": {"type": "rule", "color": "#6b7a12"}, "encoding": {"x": {"datum": 622}, "y": {"datum": 98.5}, "x2": {"datum": 685}, "y2": {"datum": 99.81}}},
    {"data": {"values": [{}]}, "mark": {"type": "point", "angle": 47, "color": "#6b7a12"}, "encoding": {"x": {"datum": 685}, "y": {"datum": 99.81}}}
   ]},
   {"data": {"name": "dtg"}, "transform": [{"filter": "datum.p=='g'"}], "mark": {"type": "line"}, "encoding": {
    "x": {"field": "T", "type": "quantitative"},
    "y": {"field": "v", "type": "quantitative", "scale": {"domain": [-8, 0.5], "nice": false, "zero": false}, "axis": {"title": "TG-1st (× 10⁻²%/℃)", "orient": "right", "values": [-8,-7.5,-7,-6.5,-6,-5.5,-5,-4.5,-4,-3.5,-3,-2.5,-2,-1.5,-1,-0.5,0], "labelExpr": "datum.value % 1 == 0 ? '' + datum.value : ''", "grid": false, "tickSize": {"condition": {"test": "datum.value % 1 == 0", "value": 6}, "value": 3}, "titlePadding": 4}},
    "color": {"datum": "TG-1st Curve"}, "strokeDash": {"datum": "TG-1st Curve"}}}
  ], "resolve": {"scale": {"y": "independent"}}},
  {"width": 449, "height": 365, "layer": [
   {"layer": [
    {"data": {"values": [{"a": 400, "b": 500}]}, "mark": {"type": "rect", "fill": "#adadad", "stroke": "#000", "strokeWidth": 1.5}, "encoding": {"x": {"field": "a", "type": "quantitative"}, "x2": {"field": "b"}}},
    {"data": {"name": "tg"}, "transform": [{"filter": "datum.p=='h'"}], "mark": {"type": "line", "interpolate": "monotone"}, "encoding": {
     "x": {"field": "T", "type": "quantitative", "scale": {"domain": [28, 962], "nice": false, "zero": false}, "axis": {"title": "Temperature (℃)", "values": [100,200,300,400,500,600,700,800,900], "labelExpr": "datum.value % 200 == 0 ? datum.label : ''", "grid": true, "gridOpacity": {"condition": {"test": "datum.value % 200 == 0", "value": 1}, "value": 0}, "tickSize": {"condition": {"test": "datum.value % 200 == 0", "value": 6}, "value": 3}}},
     "y": {"field": "v", "type": "quantitative", "scale": {"domain": [80, 101], "nice": false, "zero": false}, "axis": {"title": "TG mass (%)", "orient": "left", "values": [80,81,82,83,84,85,86,87,88,89,90,91,92,93,94,95,96,97,98,99,100], "labelExpr": "datum.value % 2 == 0 ? datum.label : ''", "grid": true, "gridOpacity": {"condition": {"test": "datum.value % 2 == 0", "value": 1}, "value": 0}, "tickSize": {"condition": {"test": "datum.value % 2 == 0", "value": 6}, "value": 3}, "titlePadding": -4}},
     "color": {"datum": "TG Curve", "scale": {"domain": ["TG Curve", "TG-1st Curve"], "range": ["#e8872a", "#6b7a12"]}, "legend": {"title": null, "legendX": 278, "legendY": 238, "rowPadding": 9, "strokeColor": "#999"}},
     "strokeDash": {"datum": "TG Curve", "scale": {"domain": ["TG Curve", "TG-1st Curve"], "range": [[1, 0], [1, 0]]}, "legend": {"title": null, "legendX": 278, "legendY": 238, "rowPadding": 9, "strokeColor": "#999"}}}},
    {"data": {"values": [{}]}, "mark": {"type": "text", "text": "3d", "fontSize": 32, "color": "#000"}, "encoding": {"x": {"datum": 185}, "y": {"datum": 99.42}}},
    {"data": {"values": [{}]}, "mark": {"type": "text", "text": "w/c=0.30", "fontSize": 34, "color": "#000"}, "encoding": {"x": {"datum": 231}, "y": {"datum": 81.79}}},
    {"data": {"values": [{}]}, "mark": {"type": "text", "text": "TG Curve", "fontSize": 22, "color": "#e8872a"}, "encoding": {"x": {"datum": 242}, "y": {"datum": 88.32}}},
    {"data": {"values": [{}]}, "mark": {"type": "text", "text": "TG-1st Curve", "fontSize": 22, "color": "#6b7a12"}, "encoding": {"x": {"datum": 746}, "y": {"datum": 100.13}}},
    {"data": {"values": [{}]}, "mark": {"type": "text", "text": "Decomposition of CH", "angle": 270, "fontSize": 19, "color": "#3a8c8c"}, "encoding": {"x": {"datum": 424}, "y": {"datum": 85.78}}},
    {"data": {"values": [{}]}, "mark": {"type": "text", "text": "(h)", "font": "Liberation Serif", "fontWeight": "bold", "fontSize": 44, "color": "#000"}, "encoding": {"x": {"datum": 94}, "y": {"datum": 78.6}}},
    {"data": {"values": [{}]}, "mark": {"type": "rule", "color": "#e8872a"}, "encoding": {"x": {"datum": 287}, "y": {"datum": 91.1}, "x2": {"datum": 242}, "y2": {"datum": 89.28}}},
    {"data": {"values": [{}]}, "mark": {"type": "point", "angle": 214, "color": "#e8872a"}, "encoding": {"x": {"datum": 242}, "y": {"datum": 89.28}}},
    {"data": {"values": [{}]}, "mark": {"type": "rule", "color": "#6b7a12"}, "encoding": {"x": {"datum": 609}, "y": {"datum": 98.12}, "x2": {"datum": 668}, "y2": {"datum": 99.42}}},
    {"data": {"values": [{}]}, "mark": {"type": "point", "angle": 52, "color": "#6b7a12"}, "encoding": {"x": {"datum": 668}, "y": {"datum": 99.42}}}
   ]},
   {"data": {"name": "dtg"}, "transform": [{"filter": "datum.p=='h'"}], "mark": {"type": "line"}, "encoding": {
    "x": {"field": "T", "type": "quantitative"},
    "y": {"field": "v", "type": "quantitative", "scale": {"domain": [-10, 0.5], "nice": false, "zero": false}, "axis": {"title": "TG-1st (× 10⁻²%/℃)", "orient": "right", "values": [-10,-9.5,-9,-8.5,-8,-7.5,-7,-6.5,-6,-5.5,-5,-4.5,-4,-3.5,-3,-2.5,-2,-1.5,-1,-0.5,0], "labelExpr": "datum.value % 1 == 0 ? '' + datum.value : ''", "grid": false, "tickSize": {"condition": {"test": "datum.value % 1 == 0", "value": 6}, "value": 3}, "titlePadding": 1}},
    "color": {"datum": "TG-1st Curve"}, "strokeDash": {"datum": "TG-1st Curve"}}}
  ], "resolve": {"scale": {"y": "independent"}}}
],
"columns": 2,
"spacing": {"row": 64, "column": 115},
"bounds": "flush",
"align": "each",
"resolve": {"scale": {"x": "independent", "y": "independent", "color": "independent", "strokeDash": "independent"}}
}
